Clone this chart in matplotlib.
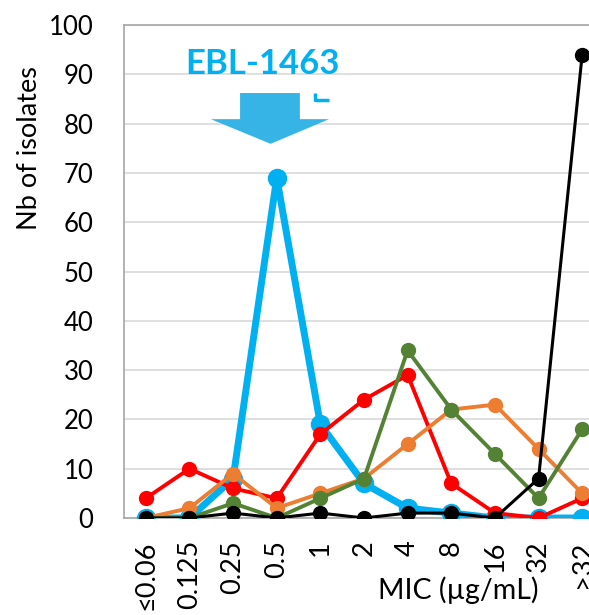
import matplotlib
matplotlib.use('Agg')
from matplotlib import pyplot as plt
from matplotlib.patches import Polygon

plt.rcParams['font.family'] = ['Lato', 'DejaVu Sans']

mic_labels = ['≤0.06', '0.125', '0.25', '0.5', '1', '2', '4', '8', '16', '32', '>32']

ebl_1463 = [0, 0, 8, 69, 19, 7, 2, 1, 0, 0, 0]
red_series = [4, 10, 6, 4, 17, 24, 29, 7, 1, 0, 4]
orange_series = [0, 2, 9, 2, 5, 8, 15, 22, 23, 14, 5]
green_series = [0, 0, 3, 0, 4, 8, 34, 22, 13, 4, 18]
black_series = [0, 0, 1, 0, 1, 0, 1, 1, 0, 8, 94]

x = list(range(len(mic_labels)))

fig = plt.figure(figsize=(5.89, 6.15), dpi=100)
ax = fig.add_axes([124 / 589, 97 / 615, 480 / 589, 493 / 615])

ax.plot(x, ebl_1463, color='#00B0F0', linewidth=5, marker='o', markersize=13, zorder=3)
ax.plot(x, red_series, color='#FF0000', linewidth=2.8, marker='o', markersize=10, zorder=4)
ax.plot(x, orange_series, color='#ED7D31', linewidth=2.8, marker='o', markersize=10, zorder=5)
ax.plot(x, green_series, color='#548235', linewidth=2.8, marker='o', markersize=10, zorder=6)
ax.plot(x, black_series, color='#000000', linewidth=2.2, marker='o', markersize=10, zorder=7)

ax.set_xlim(-0.5, 10.5)
ax.set_ylim(0, 100)
ax.set_yticks(range(0, 101, 10))
ax.set_xticks(x)
ax.set_xticklabels(mic_labels, rotation=90, va='top', ha='center')

ax.tick_params(axis='both', length=0)
ax.tick_params(axis='y', pad=22, labelsize=18.5)
ax.tick_params(axis='x', pad=16, labelsize=19.5)

ax.grid(axis='y', color='#D9D9D9', linewidth=1.2)
ax.set_axisbelow(True)
for side in ['left', 'bottom', 'top']:
    ax.spines[side].set_color('#A6A6A6')
    ax.spines[side].set_linewidth(1.2)
ax.spines['right'].set_visible(False)

ax.set_ylabel('Nb of isolates', fontsize=19.5, va='center')
ax.yaxis.set_label_coords(-0.196, 0.75)
ax.set_xlabel('MIC (µg/mL)', fontsize=20.5, va='center')
ax.xaxis.set_label_coords(0.696, -0.146)

# annotation: label + block arrow pointing at the peak
ax.text(2.68, 92, 'EBL-1463', color='#00B0F0', fontsize=25, fontweight='bold',
        ha='center', va='center', zorder=8)
arrow = Polygon([(2.16, 86.2), (3.53, 86.2), (3.53, 80.9), (4.2, 80.9),
                 (2.86, 75.9), (1.49, 80.9), (2.16, 80.9)],
                closed=True, facecolor='#35B4E5', edgecolor='none', zorder=8)
ax.add_patch(arrow)
ax.plot([3.87, 3.87, 4.2], [86.2, 84.8, 84.8], color='#00B0F0', linewidth=2.5,
        solid_capstyle='butt', zorder=8)

fig.savefig('out.png', dpi=100)
